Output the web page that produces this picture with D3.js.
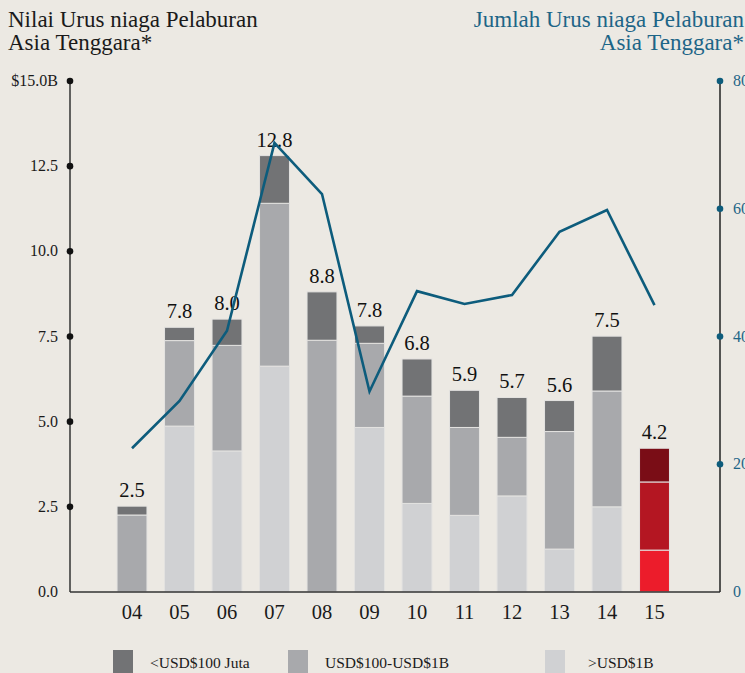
<!DOCTYPE html>
<html><head><meta charset="utf-8">
<script src="https://cdn.jsdelivr.net/npm/d3@7"></script>
<style>
html,body{margin:0;padding:0;background:#ece9e3;}
svg{display:block;}
text{font-family:"Liberation Serif","DejaVu Serif",serif;}
</style></head>
<body>
<svg id="c" width="745" height="673"></svg>
<script>
const years = ["04","05","06","07","08","09","10","11","12","13","14","15"];
const over1B   = [0, 4.87, 4.14, 6.63, 0, 4.83, 2.60, 2.25, 2.82, 1.26, 2.50, 1.23];
const mid100to1B = [2.26, 2.51, 3.10, 4.78, 7.39, 2.47, 3.15, 2.58, 1.72, 3.45, 3.40, 2.00];
const under100M = [0.26, 0.39, 0.77, 1.40, 1.42, 0.51, 1.09, 1.09, 1.17, 0.91, 1.61, 0.99];
const totalLabels = ["2.5","7.8","8.0","12.8","8.8","7.8","6.8","5.9","5.7","5.6","7.5","4.2"];
const dealCounts = [22.5, 29.9, 40.9, 70.3, 62.3, 31.4, 47.1, 45.1, 46.5, 56.4, 59.8, 44.9];
const leftTicks = [0, 2.5, 5, 7.5, 10, 12.5, 15];
const leftTickLabels = ["0.0","2.5","5.0","7.5","10.0","12.5","$15.0B"];
const rightTicks = [0, 20, 40, 60, 80];
const seriesNames = ["<USD$100 Juta","USD$100-USD$1B",">USD$1B"];

const greyColors = {under:"#727375", mid:"#a8a9ac", over:"#d0d1d3"};
const redColors = {under:"#7a0d16", mid:"#b41622", over:"#ec1c2b"};
const teal = "#0d5c7c";
const tealText = "#1d6587";

const svg = d3.select("#c");
const y0 = 592, yTop = 81, xL = 70, xR = 720;

const x = d3.scaleBand().domain(years).range([108.25, 678.25]).paddingInner(0.37).paddingOuter(0.185);
const y = d3.scaleLinear().domain([0,15]).range([y0, yTop]);
const y2 = d3.scaleLinear().domain([0,80]).range([y0, yTop]);

// titles
const tl = svg.append("text").attr("font-size",23).attr("fill","#1a1a1a");
tl.append("tspan").attr("x",8).attr("y",27).text("Nilai Urus niaga Pelaburan");
tl.append("tspan").attr("x",8).attr("y",50).text("Asia Tenggara*");
const tr = svg.append("text").attr("text-anchor","end").attr("font-size",23).attr("fill",tealText);
tr.append("tspan").attr("x",744).attr("y",27).text("Jumlah Urus niaga Pelaburan");
tr.append("tspan").attr("x",744).attr("y",50).text("Asia Tenggara*");

// data rows
const rows = years.map((yr,i)=>({yr, over:over1B[i], mid:mid100to1B[i], under:under100M[i], label:totalLabels[i], i}));
const stack = d3.stack().keys(["over","mid","under"])(rows);

const g = svg.append("g");
stack.forEach(layer=>{
  g.selectAll(null).data(layer.filter(d=>d[1]-d[0]>0.001)).join("rect")
    .attr("x", d=>x(d.data.yr))
    .attr("width", x.bandwidth())
    .attr("y", d=>y(d[1]))
    .attr("height", d=>y(d[0])-y(d[1]))
    .attr("fill", d=> (d.data.yr==="15"?redColors:greyColors)[layer.key])
    .attr("stroke","#e4e3e1").attr("stroke-width",1);
});

// total labels
g.selectAll(null).data(rows).join("text")
  .attr("x", d=>x(d.yr)+x.bandwidth()/2)
  .attr("y", d=>y(d.over+d.mid+d.under)-9)
  .attr("text-anchor","middle").attr("font-size",20.5).attr("fill","#111")
  .text(d=>d.label);

// axes lines
svg.append("line").attr("x1",xL).attr("x2",xL).attr("y1",yTop).attr("y2",y0).attr("stroke","#333").attr("stroke-width",1.5);
svg.append("line").attr("x1",xL).attr("x2",xR).attr("y1",y0).attr("y2",y0).attr("stroke","#333").attr("stroke-width",1.5);
svg.append("line").attr("x1",xR).attr("x2",xR).attr("y1",yTop).attr("y2",y0).attr("stroke","#222").attr("stroke-width",1.5);

// left ticks
leftTicks.forEach((t,i)=>{
  if(t>0) svg.append("circle").attr("cx",xL).attr("cy",y(t)).attr("r",3.3).attr("fill","#111");
  svg.append("text").attr("x",58).attr("y",y(t)+5).attr("text-anchor","end").attr("font-size",16).attr("fill","#1a1a1a").text(leftTickLabels[i]);
});
// right ticks
rightTicks.forEach(t=>{
  if(t>0) svg.append("circle").attr("cx",xR).attr("cy",y2(t)).attr("r",3.3).attr("fill",teal);
  svg.append("text").attr("x",733).attr("y",y2(t)+5).attr("font-size",16).attr("fill",tealText).text(t);
});

// x labels
svg.selectAll(null).data(years).join("text")
  .attr("x", d=>x(d)+x.bandwidth()/2).attr("y",619)
  .attr("text-anchor","middle").attr("font-size",20.5).attr("fill","#1a1a1a").text(d=>d);

// line
const line = d3.line().x((d,i)=>x(years[i])+x.bandwidth()/2).y(d=>y2(d));
svg.append("path").datum(dealCounts).attr("d",line).attr("fill","none").attr("stroke",teal).attr("stroke-width",2.6).attr("stroke-linejoin","miter");

// legend
const legX = [113, 288, 545];
const legTX = [150, 325, 588];
const legC = [greyColors.under, greyColors.mid, greyColors.over];
seriesNames.forEach((n,i)=>{
  svg.append("rect").attr("x",legX[i]).attr("y",650).attr("width",20).attr("height",24).attr("fill",legC[i]);
  svg.append("text").attr("x",legTX[i]).attr("y",668).attr("font-size",15.5).attr("fill","#1a1a1a").text(n);
});
</script>
</body></html>
